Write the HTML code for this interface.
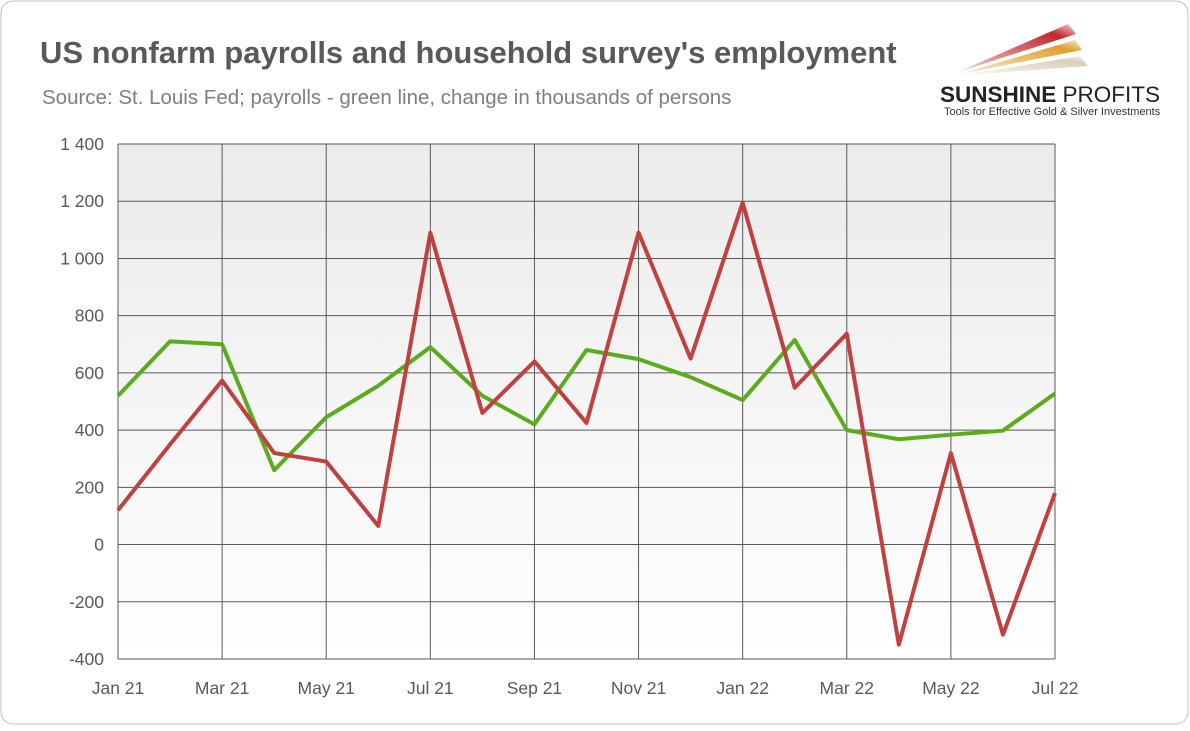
<!DOCTYPE html>
<html><head><meta charset="utf-8">
<style>
body{margin:0;background:#fff;font-family:"Liberation Sans",sans-serif;}
#wrap{position:relative;width:1190px;height:726px;}
</style></head>
<body>
<div id="wrap">
<svg id="chart" width="1190" height="726">
<defs>
<linearGradient id="bg" x1="0" y1="0" x2="0" y2="1"><stop offset="0" stop-color="#ebebeb"/><stop offset="1" stop-color="#ffffff"/></linearGradient>
<linearGradient id="r1" x1="0" y1="1" x2="1" y2="0"><stop offset="0" stop-color="#c0282d" stop-opacity="0.2"/><stop offset="0.8" stop-color="#c0282d"/><stop offset="1" stop-color="#c0282d" stop-opacity="0.2"/></linearGradient>
<linearGradient id="r2" x1="0" y1="1" x2="1" y2="0"><stop offset="0" stop-color="#e0a030" stop-opacity="0.2"/><stop offset="0.8" stop-color="#e0a030"/><stop offset="1" stop-color="#e0a030" stop-opacity="0.2"/></linearGradient>
<linearGradient id="r3" x1="0" y1="1" x2="1" y2="0"><stop offset="0" stop-color="#d8d0b8" stop-opacity="0.2"/><stop offset="0.8" stop-color="#d8d0b8"/><stop offset="1" stop-color="#d8d0b8" stop-opacity="0.2"/></linearGradient>
</defs>
<rect x="1" y="1" width="1187" height="723" rx="12" fill="#fff" stroke="#bfbfbf"/>
<text x="40" y="63" font-size="31" font-weight="bold" fill="#595959">US nonfarm payrolls and household survey's employment</text>
<text x="42" y="104" font-size="20.5" fill="#7f7f7f">Source: St. Louis Fed; payrolls - green line, change in thousands of persons</text>
<g>
<polygon points="958,72 1068,24 1076,34" fill="url(#r1)"/>
<polygon points="960,74 1075,40 1082,50" fill="url(#r2)"/>
<polygon points="964,75 1080,56 1088,66" fill="url(#r3)"/>
<text x="940" y="102" font-size="22.5" font-weight="bold" fill="#222">SUNSHINE <tspan font-weight="normal">PROFITS</tspan></text>
<text x="944" y="115" font-size="11" fill="#333">Tools for Effective Gold &amp; Silver Investments</text>
</g>
<rect x="118" y="144" width="937" height="515" fill="url(#bg)"/>
<g id="grid"></g><g id="axes"></g><g id="series"></g>
</svg>
</div>
<script>
const months = ["Jan 21","Feb 21","Mar 21","Apr 21","May 21","Jun 21","Jul 21","Aug 21","Sep 21","Oct 21","Nov 21","Dec 21","Jan 22","Feb 22","Mar 22","Apr 22","May 22","Jun 22","Jul 22"];
const payrolls = [520,710,700,260,445,555,690,520,420,680,648,585,505,715,400,368,384,398,528];
const household = [120,350,573,320,290,65,1090,460,640,425,1090,650,1195,548,737,-350,320,-315,180];
const yTicks = [-400,-200,0,200,400,600,800,1000,1200,1400];
const yTickLabels = ["-400","-200","0","200","400","600","800","1 000","1 200","1 400"];
const NS="http://www.w3.org/2000/svg";
const X0=118,X1=1055,Y0=659,Y1=144,YMIN=-400,YMAX=1400;
const xs=i=>X0+(X1-X0)*i/(months.length-1);
const ys=v=>Y0-(v-YMIN)/(YMAX-YMIN)*(Y0-Y1);
function mk(t,a,p){const e=document.createElementNS(NS,t);for(const k in a)e.setAttribute(k,a[k]);p.appendChild(e);return e;}
const grid=document.getElementById('grid'),axes=document.getElementById('axes'),ser=document.getElementById('series');
yTicks.forEach((v,i)=>{
 const l=mk('line',{x1:X0,x2:X1,y1:ys(v),y2:ys(v),stroke:'#595959','stroke-width':1},grid);
 
 
 const t=mk('text',{x:104,y:ys(v)+6,'text-anchor':'end','font-size':17.5,fill:'#595959'},axes);
 t.textContent=yTickLabels[i];
 
 
});
months.forEach((m,i)=>{
 if(i%2)return;
 const l=mk('line',{x1:xs(i),x2:xs(i),y1:Y1,y2:Y0,stroke:'#595959','stroke-width':1},grid);
 
 
 const t=mk('text',{x:xs(i),y:694,'text-anchor':'middle','font-size':17.5,fill:'#595959'},axes);
 t.textContent=m;
 
 
});
function line(data,color,name){
 const p=mk('polyline',{points:data.map((v,i)=>xs(i)+','+ys(v)).join(' '),fill:'none',stroke:color,'stroke-width':4,'stroke-linejoin':'round'},ser);
 
 
}
line(payrolls,'#5aab1e','payrolls-line');
line(household,'#c0413f','household-employment-line');
</script>
</body></html>
